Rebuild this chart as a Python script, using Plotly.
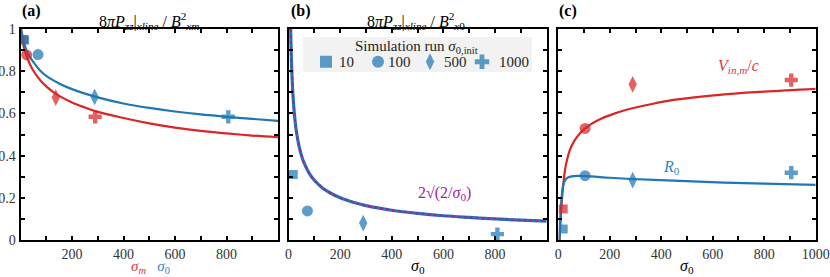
import plotly.graph_objects as go

# ---------------- data ----------------
# panel (a): fitted curves
a_blue_sig = [3, 5, 10, 20, 30, 50, 75, 100, 150, 200, 300, 400, 500, 600, 700, 800, 900, 1000]
a_blue_val = [1.0, 0.985, 0.955, 0.91, 0.88, 0.843, 0.805, 0.778, 0.742, 0.715, 0.676, 0.647, 0.626, 0.609, 0.595, 0.584, 0.574, 0.565]
a_red_sig = [2, 5, 10, 15, 20, 30, 40, 50, 65, 80, 100, 125, 150, 200, 250, 300, 400, 500, 600, 700, 800, 900, 1000]
a_red_val = [1.0, 0.965, 0.93, 0.905, 0.885, 0.852, 0.825, 0.802, 0.775, 0.752, 0.728, 0.703, 0.683, 0.652, 0.628, 0.607, 0.578, 0.553, 0.533, 0.517, 0.505, 0.495, 0.487]
# panel (a): simulation points
a_red_pts_x = [12, 24, 137, 290]
a_red_pts_y = [0.95, 0.877, 0.675, 0.584]
a_blue_pts_x = [16, 68, 288, 807]
a_blue_pts_y = [0.948, 0.879, 0.678, 0.584]

# panel (b): 2*sqrt(2/sigma0) curve values
b_sig = [8, 9, 10, 12, 15, 20, 25, 30, 40, 50, 60, 80, 100, 130, 160, 200, 250, 300, 400, 500, 600, 700, 800, 900, 1000]
b_val = [1.0, 0.943, 0.894, 0.816, 0.730, 0.632, 0.566, 0.516, 0.447, 0.400, 0.365, 0.316, 0.283, 0.248, 0.224,
         0.200, 0.179, 0.163, 0.141, 0.126, 0.115, 0.107, 0.100, 0.094, 0.089]
b_pts_x = [18, 73, 289, 809]
b_pts_y = [0.310, 0.138, 0.080, 0.028]

# panel (c): fitted curves
c_red_sig = [5, 8, 13, 20, 26, 35, 45, 60, 80, 104, 150, 220, 300, 376, 447, 615, 800, 1000]
c_red_val = [0.0, 0.08, 0.174, 0.27, 0.332, 0.385, 0.427, 0.465, 0.50, 0.529, 0.565, 0.60, 0.628, 0.648, 0.664, 0.687, 0.703, 0.716]
c_blue_sig = [5, 8, 11, 14, 19, 26, 39, 60, 104, 200, 285, 447, 620, 800, 1000]
c_blue_val = [0.0, 0.10, 0.17, 0.215, 0.26, 0.283, 0.297, 0.303, 0.303, 0.295, 0.289, 0.281, 0.273, 0.267, 0.261]
c_red_pts_x = [19, 104, 289, 905]
c_red_pts_y = [0.147, 0.529, 0.738, 0.758]
c_blue_pts_x = [19, 104, 289, 905]
c_blue_pts_y = [0.052, 0.305, 0.284, 0.319]

symbols = ["square", "circle", "diamond-tall", "cross"]
sizes = [9, 11, 12, 11]
run_labels = ["10", "100", "500", "1000"]

RED = "#dc2626"
BLUE = "#1f77b4"
RED_M = "rgba(214,39,40,0.72)"
BLUE_M = "rgba(31,119,180,0.72)"
PURPLE = "#a3229f"
FONT = "Liberation Serif, Times New Roman, serif"

fig = go.Figure()

def pts(x, y, color, xa, ya):
    for i in range(len(x)):
        fig.add_trace(go.Scatter(x=[x[i]], y=[y[i]], mode="markers", xaxis=xa, yaxis=ya,
                                 marker=dict(symbol=symbols[i], size=sizes[i], color=color, line=dict(width=0)),
                                 showlegend=False, hoverinfo="skip"))

# panel a
fig.add_trace(go.Scatter(x=a_red_sig, y=a_red_val, mode="lines", line=dict(color=RED, width=2.2, shape="spline"),
                         xaxis="x", yaxis="y", showlegend=False))
fig.add_trace(go.Scatter(x=a_blue_sig, y=a_blue_val, mode="lines", line=dict(color=BLUE, width=2.2, shape="spline"),
                         xaxis="x", yaxis="y", showlegend=False))
pts(a_red_pts_x, a_red_pts_y, RED_M, "x", "y")
pts(a_blue_pts_x, a_blue_pts_y, BLUE_M, "x", "y")

# panel b
fig.add_trace(go.Scatter(x=b_sig, y=b_val, mode="lines", line=dict(color=BLUE, width=3.2, shape="spline"),
                         xaxis="x2", yaxis="y2", showlegend=False))
fig.add_trace(go.Scatter(x=b_sig, y=b_val, mode="lines", line=dict(color=PURPLE, width=2, dash="dot", shape="spline"),
                         xaxis="x2", yaxis="y2", showlegend=False))
pts(b_pts_x, b_pts_y, BLUE_M, "x2", "y2")

# legend symbols (labels + title are annotations, background is a shape)
for i in range(4):
    fig.add_trace(go.Scatter(x=[None], y=[None], mode="markers", xaxis="x2", yaxis="y2",
                             marker=dict(symbol=symbols[i], size=sizes[i] + 1, color=BLUE_M, line=dict(width=0)),
                             name=" ", showlegend=True))

# panel c
fig.add_trace(go.Scatter(x=c_red_sig, y=c_red_val, mode="lines", line=dict(color=RED, width=2.2, shape="spline"),
                         xaxis="x3", yaxis="y3", showlegend=False))
fig.add_trace(go.Scatter(x=c_blue_sig, y=c_blue_val, mode="lines", line=dict(color=BLUE, width=2.2, shape="spline"),
                         xaxis="x3", yaxis="y3", showlegend=False))
pts(c_red_pts_x, c_red_pts_y, RED_M, "x3", "y3")
pts(c_blue_pts_x, c_blue_pts_y, BLUE_M, "x3", "y3")

W, H = 830, 277
def fx(px):
    return px / W
def fy(py):
    return 1 - py / H

ytop, ybot = fy(29), fy(240)

tickfont = dict(family=FONT, size=14, color="#333")
axis_common = dict(showline=True, linecolor="black", linewidth=2, mirror="ticks", ticks="inside",
                   ticklen=4, tickwidth=1.5, tickcolor="black", showgrid=False, zeroline=False,
                   tickfont=tickfont)
minor_x = dict(dtick=100, tick0=0, ticks="inside", ticklen=4, tickwidth=1.5, tickcolor="black", showgrid=False)
minor_y = dict(dtick=0.1, tick0=0, ticks="inside", ticklen=4, tickwidth=1.5, tickcolor="black", showgrid=False)

fig.update_layout(
    width=W, height=H, margin=dict(l=0, r=0, t=0, b=0, autoexpand=False),
    paper_bgcolor="white", plot_bgcolor="white",
    font=dict(family=FONT, size=14, color="black"),
    xaxis=dict(domain=[fx(20.5), fx(278)], range=[0, 1000], tickvals=[200, 400, 600, 800], minor=minor_x,
               anchor="y", **axis_common),
    yaxis=dict(domain=[ybot, ytop], range=[0, 1], tickvals=[0, 0.2, 0.4, 0.6, 0.8, 1],
               ticktext=["0", "0.2", "0.4", "0.6", "0.8", "1"], minor=minor_y, anchor="x", **axis_common),
    xaxis2=dict(domain=[fx(288.6), fx(546.7)], range=[0, 1000], tickvals=[0, 200, 400, 600, 800], minor=minor_x,
                anchor="y2", **axis_common),
    yaxis2=dict(domain=[ybot, ytop], range=[0, 1], dtick=0.1, showticklabels=False, anchor="x2", **axis_common),
    xaxis3=dict(domain=[fx(558.3), fx(815.7)], range=[0, 1000], tickvals=[0, 200, 400, 600, 800, 1000],
                minor=minor_x, anchor="y3", **axis_common),
    yaxis3=dict(domain=[ybot, ytop], range=[0, 1], dtick=0.1, showticklabels=False, anchor="x3", **axis_common),
    showlegend=True,
    legend=dict(x=fx(306), y=fy(62), xanchor="left", yanchor="middle", orientation="h",
                bgcolor="rgba(0,0,0,0)", borderwidth=0,
                font=dict(family=FONT, size=15, color="#222"),
                entrywidth=7, itemsizing="constant", tracegroupgap=0),
)

# legend background
fig.add_shape(type="rect", xref="paper", yref="paper", x0=fx(303), x1=fx(532), y0=fy(72), y1=fy(37),
              fillcolor="#f2f2f2", line=dict(width=0), layer="below")

def ann(text, x, y, size=15, color="black", xanchor="center", yanchor="middle"):
    fig.add_annotation(text=text, x=fx(x), y=fy(y), xref="paper", yref="paper", showarrow=False,
                       xanchor=xanchor, yanchor=yanchor, font=dict(family=FONT, size=size, color=color))

# legend title and labels
ann("Simulation run <i>σ</i><sub>0,init</sub>", 417, 47, size=15, color="#222")
leg_label_x = [337, 386, 442, 497]
for lab, lx in zip(run_labels, leg_label_x):
    ann(lab, lx, 62, size=15, color="#222", xanchor="left")

ann("<b>(a)</b>", 20, 11, size=16, xanchor="left")
ann("<b>(b)</b>", 289, 11, size=16, xanchor="left")
ann("<b>(c)</b>", 557, 11, size=16, xanchor="left")
ann("8<i>πP</i><sub><i>zz</i></sub>|<sub><i>xline</i></sub> / <i>B</i><sup>2</sup><sub><i>xm</i></sub>", 149, 21, size=16)
ann("8<i>πP</i><sub><i>zz</i></sub>|<sub><i>xline</i></sub> / <i>B</i><sup>2</sup><sub><i>x</i>0</sub>", 416, 21, size=16)
ann("<span style='color:#e0393b'><i>σ</i><sub><i>m</i></sub></span>   <span style='color:#2f86c8'><i>σ</i><sub>0</sub></span>",
    150, 267, size=15)
ann("<i>σ</i><sub>0</sub>", 418, 266, size=16)
ann("<i>σ</i><sub>0</sub>", 687, 266, size=16)
ann("2√(2/<i>σ</i><sub>0</sub>)", 444, 193, size=16, color=PURPLE)
ann("<i>V</i><sub><i>in,m</i></sub>/<i>c</i>", 738, 66, size=16, color="#e0393b")
ann("<i>R</i><sub>0</sub>", 671, 167, size=16, color="#2f86c8")

# remove the default page margin so the 830x277 figure fills the window exactly; hide the mode bar
fig.write_html("out.html", config={"displayModeBar": False},
               post_script="document.body.style.margin='0px';document.body.style.overflow='hidden';")
